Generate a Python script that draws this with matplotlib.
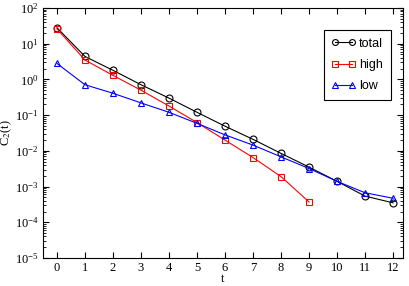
import numpy as np
import matplotlib
matplotlib.use("Agg")
from matplotlib import pyplot as plt
from matplotlib import ticker

# data
t_all = [0, 1, 2, 3, 4, 5, 6, 7, 8, 9, 10, 11, 12]
total = [28, 4.4, 1.8, 0.71, 0.30, 0.12, 0.049, 0.021, 0.0085, 0.0035, 0.0014, 0.00054, 0.00035]
t_high = [0, 1, 2, 3, 4, 5, 6, 7, 8, 9]
high = [26, 3.5, 1.3, 0.50, 0.18, 0.062, 0.020, 0.0065, 0.0019, 0.00037]
low = [2.8, 0.71, 0.41, 0.22, 0.12, 0.059, 0.028, 0.0145, 0.0068, 0.0032, 0.0014, 0.00067, 0.00047]

plt.rcParams['font.family'] = ['Liberation Serif', 'DejaVu Serif']
plt.rcParams['mathtext.fontset'] = 'stix'

fig = plt.figure(figsize=(4.09, 2.86), dpi=100)
ax = fig.add_axes([0.105, 0.098, 0.88, 0.874])

mk = dict(markersize=5, markerfacecolor='none', markeredgewidth=0.8, linewidth=0.8)
ax.plot(t_all, total, color='black', marker='o', label='total', **mk)
ax.plot(t_high, high, color='red', marker='s', label='high', **mk)
ax.plot(t_all, low, color='blue', marker='^', label='low', **mk)

ax.set_yscale('log')
ax.set_ylim(1e-5, 1e2)
ax.set_xlim(-0.5, 12.35)
ax.set_xticks(range(13))
ax.yaxis.set_major_locator(ticker.LogLocator(base=10, numticks=10))
ax.yaxis.set_minor_locator(ticker.LogLocator(base=10, subs=np.arange(2, 10), numticks=10))
ax.yaxis.set_minor_formatter(ticker.NullFormatter())

ax.tick_params(which='both', direction='in', top=True, right=True, labelsize=9, pad=3)
ax.tick_params(which='major', length=4.5, width=0.8)
ax.tick_params(which='minor', length=2.5, width=0.6)
ax.tick_params(axis='x', which='minor', top=False, bottom=False)

ax.set_xlabel('t', fontsize=9, labelpad=-1)
ax.set_ylabel(r'C$_2$(t)', fontsize=9, labelpad=1)

leg = ax.legend(loc='upper right', bbox_to_anchor=(0.966, 0.912), fancybox=False,
                edgecolor='black', framealpha=1, handlelength=1.9, handletextpad=0.3,
                borderpad=0.6, labelspacing=0.75, borderaxespad=0, numpoints=2,
                markerscale=0.85, prop={'family': 'Liberation Sans', 'size': 9})
leg.get_frame().set_linewidth(0.8)

fig.savefig('out.png', dpi=100)
